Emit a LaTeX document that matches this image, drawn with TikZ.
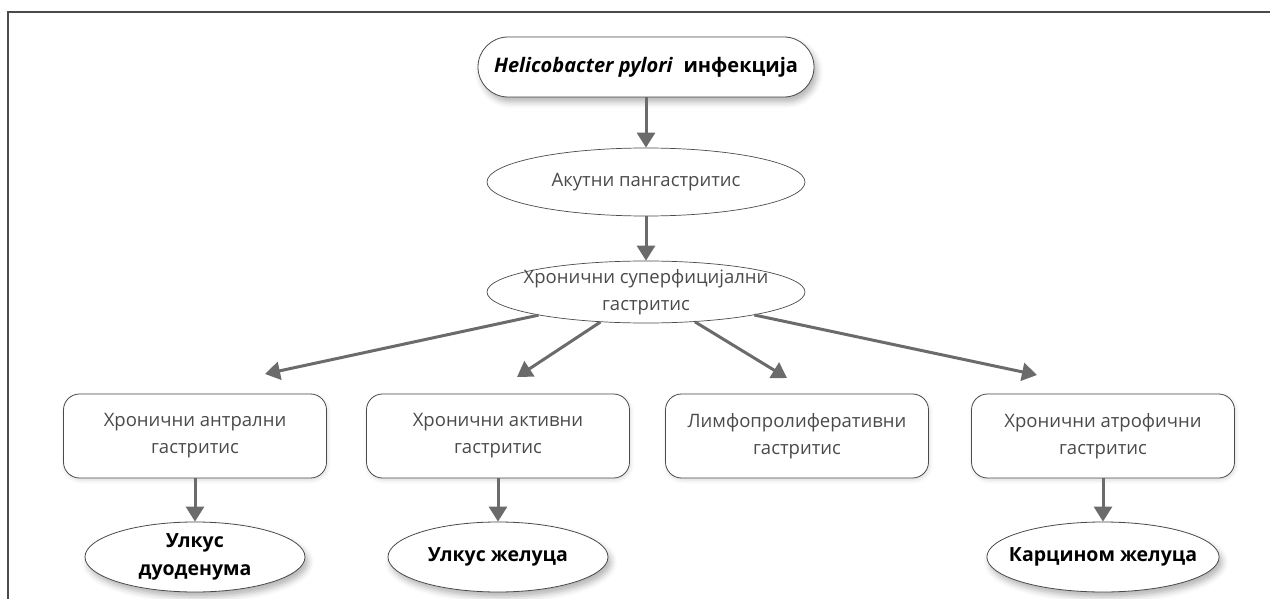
\documentclass[tikz,border=0pt]{standalone}
\usepackage{fontspec}
\setmainfont{Open Sans}
\usetikzlibrary{shapes.geometric, arrows.meta, shadows.blur}
\definecolor{linegray}{HTML}{4A4A4A}
\definecolor{arrowgray}{HTML}{6B6B6B}
\definecolor{textgray}{HTML}{4A4A4A}
\tikzset{
    >={Triangle[length=15pt, width=18pt]},
    node distance=110pt,
    every node/.style={font=\fontsize{18.5}{27}\selectfont, align=center},
    softshadow/.style={blur shadow={shadow xshift=3pt, shadow yshift=-5pt, shadow blur radius=6pt, shadow opacity=30}},
    start/.style={rectangle, rounded corners=30pt, draw=linegray, line width=0.8pt, fill=white,
        minimum width=336pt, minimum height=60pt, inner sep=2pt, font=\fontsize{20}{27}\selectfont\bfseries, softshadow},
    oval/.style={ellipse, draw=linegray, line width=0.7pt, fill=white, inner sep=0pt,
        minimum width=318pt, text=textgray},
    disease/.style={rectangle, rounded corners=16pt, draw=linegray, line width=0.8pt, fill=white,
        minimum width=263pt, minimum height=84pt, inner sep=0pt, text=textgray,
        blur shadow={shadow xshift=1pt, shadow yshift=-2pt, shadow blur radius=4pt, shadow opacity=15}},
    outcome/.style={ellipse, draw=linegray, line width=0.8pt, fill=white, inner sep=0pt,
        minimum width=220pt, minimum height=70pt, font=\fontsize{19.5}{28}\selectfont\bfseries, softshadow},
    flow/.style={->, draw=arrowgray, line width=3pt}
}
\begin{document}
\begin{tikzpicture}[x=1pt, y=1pt]
    \useasboundingbox (0,0) rectangle (1270,-599);
    \draw[line width=2pt, draw=linegray] (8,-599) |- (1270,-12);

    \node[start] (inf) at (646,-67) {\textit{Helicobacter pylori}~ инфекција};
    \node[oval, minimum height=68pt, below of=inf, node distance=115pt] (akut) {Акутни пангастритис};
    \node[oval, minimum height=62pt, inner xsep=-13pt, inner ysep=-3pt, below of=akut] (chron) {Хронични суперфицијални\\гастритис};

    \node[disease, below of=chron, node distance=144pt, xshift=-451pt] (antr) {Хронични антрални\\гастритис};
    \node[disease, below of=chron, node distance=144pt, xshift=-148pt] (aktiv) {Хронични активни\\гастритис};
    \node[disease, below of=chron, node distance=144pt, xshift=151pt] (limf) {Лимфопролиферативни\\гастритис};
    \node[disease, below of=chron, node distance=144pt, xshift=457pt] (atrof) {Хронични атрофични\\гастритис};

    \node[outcome, inner ysep=-3pt, below of=antr, node distance=121pt] (duod) {Улкус\\дуоденума};
    \node[outcome, below of=aktiv, node distance=121pt] (ulk) {Улкус желуца};
    \node[outcome, inner xsep=-12pt, below of=atrof, node distance=121pt] (karc) {Карцином желуца};

    \coordinate (t1) at (265,-374);
    \coordinate (t2) at (517,-377);
    \coordinate (t3) at (787,-378);
    \coordinate (t4) at (1037,-375);

    \draw[flow] (inf) -- (akut);
    \draw[flow] (akut) -- (chron);
    \draw[flow] (chron) -- (t1);
    \draw[flow] (chron) -- (t2);
    \draw[flow] (chron) -- (t3);
    \draw[flow] (chron) -- (t4);
    \draw[flow] (antr) -- (duod);
    \draw[flow] (aktiv) -- (ulk);
    \draw[flow] (atrof) -- (karc);
\end{tikzpicture}
\end{document}
